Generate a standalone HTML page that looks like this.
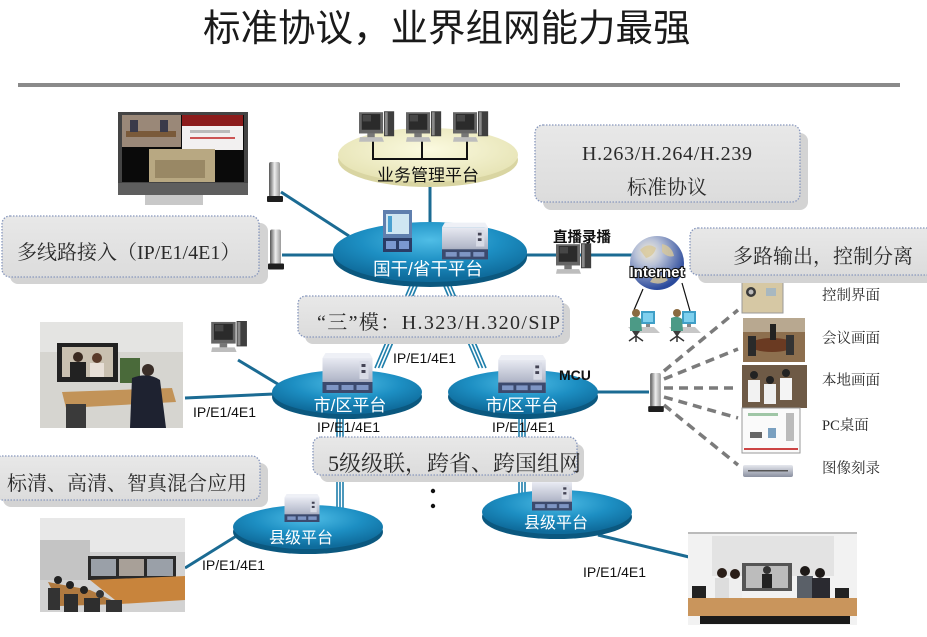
<!DOCTYPE html>
<html><head><meta charset="utf-8"><style>
html,body{margin:0;padding:0;background:#fff;}
svg{display:block;}
.cj{font-family:"Liberation Serif","Noto Serif CJK SC",serif;fill:#2a2a2a;}
.sn{font-family:"Liberation Sans","Noto Sans CJK SC",sans-serif;}
.lb{font-family:"Liberation Sans",sans-serif;font-size:14px;fill:#111;}
.wt{font-family:"Liberation Sans","Noto Sans CJK SC",sans-serif;fill:#fff;}
</style></head><body>
<svg width="927" height="637" viewBox="0 0 927 637" xmlns="http://www.w3.org/2000/svg">
<defs>
<radialGradient id="bl" cx="50%" cy="30%" r="65%">
<stop offset="0" stop-color="#4fbde6"/><stop offset="0.55" stop-color="#1d8fc3"/><stop offset="1" stop-color="#0f6c9c"/></radialGradient>
<radialGradient id="yl" cx="50%" cy="40%" r="60%">
<stop offset="0" stop-color="#fbfae0"/><stop offset="1" stop-color="#e6e3b4"/></radialGradient>
<radialGradient id="gl" cx="35%" cy="30%" r="70%">
<stop offset="0" stop-color="#f3ecd8"/><stop offset="0.35" stop-color="#b9c2d8"/><stop offset="1" stop-color="#2b4a9c"/></radialGradient>
<linearGradient id="bx" x1="0" y1="0" x2="0" y2="1"><stop offset="0" stop-color="#e8e8e8"/><stop offset="1" stop-color="#dcdcdc"/></linearGradient>
<linearGradient id="mc" x1="0" y1="0" x2="0" y2="1"><stop offset="0" stop-color="#e8eaf2"/><stop offset="0.6" stop-color="#b5bacb"/><stop offset="1" stop-color="#7d8399"/></linearGradient>
<linearGradient id="tm" x1="0" y1="0" x2="1" y2="0"><stop offset="0" stop-color="#555"/><stop offset="0.5" stop-color="#eee"/><stop offset="1" stop-color="#999"/></linearGradient>
<linearGradient id="dv" x1="0" y1="0" x2="0" y2="1"><stop offset="0" stop-color="#e6e8ee"/><stop offset="1" stop-color="#8a90a0"/></linearGradient>
<symbol id="pc" viewBox="0 0 40 34">
<rect x="0" y="1" width="26" height="23" fill="#666"/>
<rect x="3" y="3" width="20" height="17" fill="#2b2b2b"/>
<rect x="4" y="4" width="9" height="7" fill="#5a5a5a" opacity="0.6"/>
<rect x="27" y="0" width="11" height="27" fill="#3f3f3f"/>
<rect x="28" y="1" width="3" height="25" fill="#8a8a8a"/>
<polygon points="1,28 25,28 27,33 0,33" fill="#bdbdbd"/>
<rect x="9" y="24" width="8" height="4" fill="#777"/>
</symbol>
<symbol id="mcu" viewBox="0 0 50 40">
<polygon points="3,0 47,0 50,5 0,5" fill="#eef0f6"/>
<rect x="0" y="5" width="50" height="35" fill="url(#mc)"/>
<rect x="37" y="8" width="9" height="18" fill="#d8dbe6"/>
<rect x="39" y="11" width="4" height="3" fill="#445"/>
<rect x="39" y="17" width="4" height="3" fill="#445"/>
<rect x="0" y="29" width="50" height="11" fill="#3c4a6e"/>
<rect x="4" y="32" width="12" height="5" fill="#7e95c4"/>
<rect x="19" y="32" width="12" height="5" fill="#7e95c4"/>
<rect x="34" y="32" width="12" height="5" fill="#7e95c4"/>
</symbol>
<symbol id="term" viewBox="0 0 16 40">
<rect x="2" y="0" width="11" height="35" rx="2" fill="url(#tm)"/>
<rect x="0" y="34" width="16" height="6" rx="1" fill="#1e1e1e"/>
</symbol>
<symbol id="usr" viewBox="0 0 34 38">
<polygon points="2,22 28,22 34,28 8,28" fill="#c7c7c7"/>
<rect x="15" y="6" width="14" height="13" fill="#3f9fc7"/>
<rect x="17" y="8" width="10" height="9" fill="#7fd0ee"/>
<rect x="20" y="19" width="4" height="3" fill="#888"/>
<circle cx="10" cy="8" r="4" fill="#8a6a40"/>
<path d="M4,13 Q10,10 15,14 L16,26 L4,26 Z" fill="#4c9a86"/>
<path d="M6,26 L14,26 L10,32 Z" fill="#3c3c3c"/>
<path d="M3,36 L10,31 L17,36 M10,31 L10,37" stroke="#333" stroke-width="1.5" fill="none"/>
</symbol>
</defs>

<!-- title -->
<text x="203" y="41" class="sn" font-size="37.5" fill="#1a1a1a">标准协议，业界组网能力最强</text>
<rect x="18" y="83" width="882" height="4" fill="#8a8a8a"/>

<!-- connectors -->
<g stroke="#1b6b93" stroke-width="3" fill="none">
<line x1="281" y1="192" x2="349" y2="236"/>
<line x1="282" y1="255" x2="336" y2="255"/>
<line x1="430" y1="186" x2="430" y2="224"/>
<line x1="525" y1="255" x2="632" y2="255"/>
<line x1="238" y1="360" x2="281" y2="386"/>
<line x1="185" y1="398" x2="274" y2="394"/>
<line x1="596" y1="392" x2="649" y2="392"/>
<line x1="185" y1="568" x2="238" y2="535"/>
<line x1="598" y1="535" x2="689" y2="557"/>
</g>
<!-- triple lines -->
<g stroke="#1f7fab" stroke-width="1.6" fill="none">
<line x1="410" y1="286" x2="375" y2="368"/><line x1="413.5" y1="286" x2="378.5" y2="368"/><line x1="417" y1="286" x2="382" y2="368"/>
<line x1="444" y1="286" x2="479" y2="368"/><line x1="447.5" y1="286" x2="482.5" y2="368"/><line x1="451" y1="286" x2="486" y2="368"/>
<line x1="337" y1="416" x2="337" y2="508"/><line x1="340" y1="416" x2="340" y2="508"/><line x1="343" y1="416" x2="343" y2="508"/>
<line x1="519" y1="416" x2="519" y2="494"/><line x1="522" y1="416" x2="522" y2="494"/><line x1="525" y1="416" x2="525" y2="494"/>
</g>
<!-- globe user lines -->
<g stroke="#111" stroke-width="1.2">
<line x1="643" y1="289" x2="634" y2="310"/>
<line x1="682" y1="283" x2="690" y2="311"/>
</g>
<!-- dashed fan -->
<g stroke="#7b7b7b" stroke-width="3.5" stroke-dasharray="9,6" fill="none">
<line x1="664" y1="371" x2="738" y2="310"/>
<line x1="664" y1="379" x2="738" y2="349"/>
<line x1="664" y1="388" x2="738" y2="388"/>
<line x1="664" y1="397" x2="738" y2="418"/>
<line x1="664" y1="405" x2="738" y2="465"/>
</g>

<!-- yellow ellipse -->
<ellipse cx="428" cy="160" rx="90" ry="27" fill="#d9d5a2"/>
<ellipse cx="428" cy="155" rx="90" ry="27" fill="url(#yl)"/>
<g stroke="#111" stroke-width="2" fill="none">
<line x1="372" y1="159" x2="468" y2="159"/>
<line x1="373" y1="141" x2="373" y2="159"/><line x1="422" y1="141" x2="422" y2="159"/><line x1="467" y1="141" x2="467" y2="159"/>
</g>
<use href="#pc" x="359" y="111" width="37" height="32"/>
<use href="#pc" x="406" y="111" width="37" height="32"/>
<use href="#pc" x="453" y="111" width="37" height="32"/>
<text x="428" y="181" class="sn" font-size="17" fill="#111" text-anchor="middle">业务管理平台</text>

<!-- blue ellipses -->
<ellipse cx="430" cy="257" rx="97" ry="30" fill="#0b587f"/>
<ellipse cx="430" cy="252" rx="97" ry="30" fill="url(#bl)"/>
<ellipse cx="347" cy="397" rx="75" ry="22" fill="#0b587f"/>
<ellipse cx="347" cy="392" rx="75" ry="22" fill="url(#bl)"/>
<ellipse cx="523" cy="397" rx="75" ry="22" fill="#0b587f"/>
<ellipse cx="523" cy="392" rx="75" ry="22" fill="url(#bl)"/>
<ellipse cx="308" cy="532" rx="75" ry="22" fill="#0b587f"/>
<ellipse cx="308" cy="527" rx="75" ry="22" fill="url(#bl)"/>
<ellipse cx="557" cy="517" rx="75" ry="22" fill="#0b587f"/>
<ellipse cx="557" cy="512" rx="75" ry="22" fill="url(#bl)"/>

<!-- devices on ellipses -->
<g>
<rect x="383" y="210" width="29" height="42" fill="#5f7fae"/>
<rect x="386" y="214" width="23" height="20" fill="#cfe6f2"/>
<rect x="388" y="216" width="4" height="16" fill="#4aa0d0"/>
<rect x="383" y="238" width="29" height="14" fill="#2a3c66"/>
<rect x="386" y="241" width="10" height="8" fill="#7a98d0"/>
<rect x="399" y="241" width="10" height="8" fill="#7a98d0"/>
</g>
<use href="#mcu" x="442" y="222" width="46" height="38"/>
<use href="#mcu" x="322" y="353" width="51" height="40"/>
<use href="#mcu" x="497" y="355" width="50" height="38"/>
<use href="#mcu" x="282" y="494" width="40" height="28"/>
<use href="#mcu" x="532" y="477" width="40" height="35"/>

<text x="428" y="275" class="wt" font-size="17.5" text-anchor="middle">国干/省干平台</text>
<text x="350" y="411" class="wt" font-size="17" text-anchor="middle">市/区平台</text>
<text x="522" y="411" class="wt" font-size="17" text-anchor="middle">市/区平台</text>
<text x="301" y="543" class="wt" font-size="16" text-anchor="middle">县级平台</text>
<text x="556" y="528" class="wt" font-size="16" text-anchor="middle">县级平台</text>

<!-- terminals -->
<use href="#term" x="267" y="162" width="16" height="40"/>
<use href="#term" x="268" y="229" width="16" height="41"/>
<use href="#term" x="648" y="373" width="16" height="39"/>

<!-- computers -->
<use href="#pc" x="556" y="243" width="37" height="32"/>
<use href="#pc" x="209" y="321" width="42" height="32"/>

<!-- globe -->
<circle cx="657" cy="263" r="27" fill="url(#gl)"/>
<path d="M640,250 q8,-8 16,-2 q-2,8 -10,10 z M662,244 q10,2 12,12 q-6,2 -12,-4 z M650,282 q10,4 18,-2 q-4,-6 -14,-4 z" fill="#d8c89a" opacity="0.8"/>
<text x="657" y="277" text-anchor="middle" font-family="Liberation Sans,sans-serif" font-weight="bold" font-size="15" fill="#fff" stroke="#111" stroke-width="2.2" paint-order="stroke">Internet</text>
<use href="#usr" x="626" y="305" width="34" height="38"/>
<use href="#usr" x="667" y="305" width="34" height="38"/>

<!-- top monitor -->
<rect x="118" y="112" width="130" height="83" fill="#444"/>
<rect x="118" y="183" width="130" height="12" fill="#5e5e5e"/>
<rect x="122" y="115" width="122" height="67" fill="#0a0a0a"/>
<rect x="122" y="115" width="59" height="32" fill="#9a8878"/>
<rect x="126" y="131" width="50" height="6" fill="#7a5a3a"/>
<rect x="130" y="120" width="8" height="12" fill="#3a3a4a"/>
<rect x="160" y="120" width="8" height="12" fill="#3a3a4a"/>
<rect x="182" y="115" width="61" height="11" fill="#8c1c1c"/>
<rect x="182" y="126" width="61" height="24" fill="#f2f0f0"/>
<rect x="190" y="130" width="40" height="3" fill="#bbb"/>
<rect x="190" y="137" width="45" height="2" fill="#c55"/>
<rect x="149" y="149" width="66" height="33" fill="#b8a882"/>
<rect x="155" y="160" width="50" height="18" fill="#8c7a58" opacity="0.7"/>
<rect x="145" y="195" width="58" height="10" fill="#c8c8c8"/>

<!-- left conference photo -->
<rect x="40" y="322" width="143" height="106" fill="#d6d5d0"/>
<rect x="40" y="322" width="143" height="30" fill="#e4e4e2"/>
<rect x="57" y="343" width="61" height="39" fill="#222"/>
<rect x="62" y="347" width="51" height="30" fill="#c9c0b0"/>
<circle cx="78" cy="357" r="5" fill="#3a2a20"/><rect x="70" y="362" width="16" height="15" fill="#222"/>
<circle cx="97" cy="358" r="5" fill="#5a3a2a"/><rect x="90" y="363" width="14" height="14" fill="#e8e0d8"/>
<rect x="120" y="358" width="20" height="25" fill="#4a6a3a"/>
<polygon points="62,392 172,388 176,402 66,408" fill="#c29358"/>
<rect x="66" y="404" width="20" height="24" fill="#3a3a3a"/>
<circle cx="148" cy="370" r="6" fill="#3a2e28"/>
<path d="M132,378 Q148,372 160,380 L166,428 L130,428 Z" fill="#1e2230"/>

<!-- bottom left photo -->
<rect x="40" y="518" width="145" height="94" fill="#d2d2d2"/>
<rect x="40" y="518" width="145" height="34" fill="#e8e8e8"/>
<rect x="40" y="540" width="50" height="40" fill="#c4c4c4"/>
<rect x="88" y="556" width="88" height="24" fill="#2a2a2a"/>
<rect x="91" y="559" width="25" height="17" fill="#9aa0a8"/>
<rect x="119" y="559" width="25" height="17" fill="#a8a098"/>
<rect x="147" y="559" width="26" height="17" fill="#9aa0a8"/>
<polygon points="90,580 185,576 185,600 120,604" fill="#c8843c"/>
<polygon points="48,582 90,590 120,604 60,606" fill="#b07a40"/>
<circle cx="58" cy="580" r="4" fill="#222"/><circle cx="70" cy="585" r="4" fill="#222"/><circle cx="84" cy="590" r="4" fill="#222"/><circle cx="100" cy="594" r="4" fill="#333"/>
<rect x="48" y="588" width="12" height="22" fill="#333"/>
<rect x="64" y="594" width="14" height="18" fill="#2e2e2e"/>
<rect x="84" y="598" width="16" height="14" fill="#2e2e2e"/>
<rect x="106" y="600" width="16" height="12" fill="#333"/>

<!-- bottom right photo -->
<rect x="688" y="532" width="169" height="93" fill="#f2f2f2"/>
<rect x="688" y="532" width="169" height="2" fill="#bbb"/>
<rect x="712" y="536" width="122" height="40" fill="#e3e3e3"/>
<rect x="742" y="563" width="50" height="28" fill="#555"/>
<rect x="746" y="566" width="42" height="22" fill="#bcbcbc"/>
<circle cx="767" cy="570" r="4" fill="#333"/><rect x="762" y="574" width="10" height="14" fill="#222"/>
<circle cx="722" cy="573" r="5" fill="#2a1e18"/><rect x="715" y="578" width="14" height="20" fill="#ddd"/>
<circle cx="735" cy="574" r="5" fill="#2a1e18"/><rect x="729" y="579" width="13" height="19" fill="#eee"/>
<circle cx="805" cy="571" r="5" fill="#1e1a18"/><rect x="797" y="576" width="16" height="22" fill="#5a6068"/>
<circle cx="820" cy="573" r="5" fill="#1e1a18"/><rect x="812" y="578" width="18" height="20" fill="#2a2a30"/>
<rect x="692" y="586" width="14" height="14" fill="#222"/>
<rect x="835" y="588" width="14" height="14" fill="#222"/>
<polygon points="688,598 857,598 857,616 688,616" fill="#c9955c"/>
<rect x="700" y="616" width="150" height="8" fill="#1a1a1a"/>

<!-- right thumbnails -->
<rect x="742" y="281" width="41" height="32" fill="#d6c8a4"/>
<rect x="742" y="281" width="41" height="32" fill="none" stroke="#999" stroke-width="1"/>
<circle cx="751" cy="292" r="5" fill="#3a3a3a"/><circle cx="751" cy="292" r="2.5" fill="#bbb"/>
<rect x="766" y="288" width="10" height="8" fill="#a8b8c0"/>
<rect x="743" y="318" width="62" height="44" fill="#8d6f4e"/>
<rect x="743" y="318" width="62" height="14" fill="#b8a890"/>
<ellipse cx="772" cy="345" rx="22" ry="7" fill="#6a3a22"/>
<rect x="748" y="336" width="8" height="20" fill="#2a2a2a"/><rect x="786" y="335" width="8" height="20" fill="#333"/><rect x="770" y="324" width="6" height="16" fill="#222"/>
<rect x="742" y="365" width="65" height="43" fill="#6e5a46"/>
<rect x="748" y="380" width="12" height="22" fill="#f2f2f2"/><rect x="764" y="384" width="12" height="20" fill="#eee"/><rect x="780" y="378" width="12" height="22" fill="#f4f4f4"/>
<circle cx="754" cy="375" r="4" fill="#222"/><circle cx="770" cy="380" r="4" fill="#222"/><circle cx="786" cy="373" r="4" fill="#222"/>
<rect x="742" y="408" width="58" height="45" fill="#fafafa" stroke="#9a9a9a" stroke-width="1"/>
<rect x="748" y="413" width="30" height="3" fill="#9fc6a6"/>
<rect x="786" y="413" width="8" height="28" fill="#bbb"/>
<rect x="750" y="432" width="12" height="6" fill="#666"/>
<rect x="768" y="428" width="8" height="10" fill="#7aa0c0"/>
<rect x="744" y="448" width="54" height="2" fill="#c44"/>
<rect x="743" y="465" width="50" height="12" rx="2" fill="url(#dv)"/>
<rect x="748" y="470" width="40" height="1.5" fill="#555"/>

<!-- labels -->
<text x="582" y="242" font-family="Liberation Sans,'Noto Sans CJK SC',sans-serif" font-weight="bold" font-size="14.5" fill="#111" text-anchor="middle">直播录播</text>
<text x="559" y="380" font-family="Liberation Sans,sans-serif" font-weight="bold" font-size="14" fill="#111">MCU</text>
<text x="393" y="363" class="lb">IP/E1/4E1</text>
<text x="317" y="432" class="lb">IP/E1/4E1</text>
<text x="492" y="432" class="lb">IP/E1/4E1</text>
<text x="193" y="417" class="lb">IP/E1/4E1</text>
<text x="202" y="570" class="lb">IP/E1/4E1</text>
<text x="583" y="577" class="lb">IP/E1/4E1</text>
<g class="cj" font-size="14.5">
<text x="822" y="300">控制界面</text>
<text x="822" y="343">会议画面</text>
<text x="822" y="385">本地画面</text>
<text x="822" y="430">PC桌面</text>
<text x="822" y="473">图像刻录</text>
</g>
<circle cx="433" cy="491" r="2.2" fill="#111"/>
<circle cx="433" cy="506" r="2.2" fill="#111"/>

<!-- callout boxes -->
<g fill="#d3d3d3">
<rect x="10" y="223" width="258" height="61" rx="8"/>
<rect x="543" y="133" width="265" height="77" rx="8"/>
<rect x="698" y="236" width="245" height="47" rx="8"/>
<rect x="305" y="303" width="265" height="41" rx="8"/>
<rect x="320" y="444" width="264" height="38" rx="8"/>
<rect x="3" y="463" width="265" height="44" rx="8"/>
</g>
<g fill="url(#bx)" stroke="#8797bd" stroke-width="1.3" stroke-dasharray="1.5,1.5">
<rect x="2" y="216" width="257" height="61" rx="8"/>
<rect x="535" y="125" width="265" height="77" rx="8"/>
<rect x="690" y="228" width="250" height="47" rx="8"/>
<rect x="298" y="296" width="265" height="41" rx="8"/>
<rect x="313" y="437" width="264" height="38" rx="8"/>
<rect x="-6" y="456" width="266" height="44" rx="8"/>
</g>
<g class="cj" font-size="20">
<text x="17" y="259">多线路接入（<tspan>IP/E1/4E1</tspan>）</text>
<text x="582" y="160" textLength="170" lengthAdjust="spacing">H.263/H.264/H.239</text>
<text x="667" y="194" text-anchor="middle">标准协议</text>
<text x="733" y="263">多路输出，控制分离</text>
<text x="317" y="329" textLength="243" lengthAdjust="spacing">“三”模：H.323/H.320/SIP</text>
<text x="328" y="471" font-size="22">5级级联，跨省、跨国组网</text>
<text x="7" y="490">标清、高清、智真混合应用</text>
</g>
</svg>
</body></html>
